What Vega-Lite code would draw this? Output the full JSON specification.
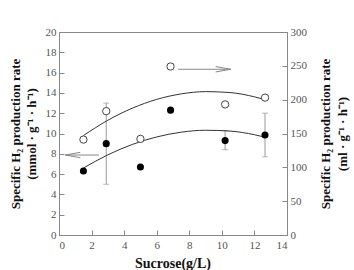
{
  "$schema": "https://vega.github.io/schema/vega-lite/v6.json",
  "width": 228,
  "height": 203,
  "autosize": {"type": "none"},
  "padding": {"left": 59, "top": 32, "right": 67, "bottom": 35},
  "background": "white",
  "config": {
    "view": {"stroke": "#888", "strokeWidth": 1},
    "font": "Liberation Serif",
    "axis": {
      "grid": false,
      "domainColor": "#888",
      "tickColor": "#888",
      "tickSize": -5,
      "labelFont": "Liberation Serif",
      "labelFontSize": 11,
      "labelColor": "#555",
      "titleFont": "Liberation Serif",
      "titleFontSize": 13,
      "titleFontWeight": "bold",
      "titleColor": "#111"
    }
  },
  "datasets": {
    "mmol": [
      {"sucrose": 1.5, "rate": 6.3},
      {"sucrose": 2.9, "rate": 9.0, "lo": 5.0, "hi": 13.0},
      {"sucrose": 5.0, "rate": 6.7},
      {"sucrose": 6.85, "rate": 12.3},
      {"sucrose": 10.2, "rate": 9.3, "lo": 8.4, "hi": 10.3},
      {"sucrose": 12.65, "rate": 9.85, "lo": 7.7, "hi": 12.0}
    ],
    "mmolFit": [
      {"sucrose": 1.5, "rate": 6.6},
      {"sucrose": 3.0, "rate": 7.9},
      {"sucrose": 4.5, "rate": 8.92},
      {"sucrose": 6.0, "rate": 9.66},
      {"sucrose": 7.5, "rate": 10.13},
      {"sucrose": 9.0, "rate": 10.32},
      {"sucrose": 10.5, "rate": 10.24},
      {"sucrose": 12.0, "rate": 9.88},
      {"sucrose": 12.65, "rate": 9.64}
    ],
    "ml": [
      {"sucrose": 1.5, "rate": 141},
      {"sucrose": 2.9, "rate": 183},
      {"sucrose": 5.0, "rate": 142},
      {"sucrose": 6.85, "rate": 249},
      {"sucrose": 10.2, "rate": 193},
      {"sucrose": 12.65, "rate": 203}
    ],
    "mlFit": [
      {"sucrose": 1.5, "rate": 147},
      {"sucrose": 3.0, "rate": 169.6},
      {"sucrose": 4.5, "rate": 187.4},
      {"sucrose": 6.0, "rate": 200.4},
      {"sucrose": 7.5, "rate": 208.5},
      {"sucrose": 9.0, "rate": 211.9},
      {"sucrose": 10.5, "rate": 210.5},
      {"sucrose": 12.0, "rate": 204.2},
      {"sucrose": 12.65, "rate": 200}
    ],
    "arrows": [
      {"from": 2.45, "to": 0.39, "level": 7.88, "dir": 180},
      {"from": 7.31, "to": 10.54, "level": 16.33, "dir": 0}
    ]
  },
  "encoding": {
    "x": {
      "field": "sucrose",
      "type": "quantitative",
      "scale": {"domain": [0, 14], "nice": false},
      "axis": {
        "title": "Sucrose(g/L)",
        "values": [0, 2, 4, 6, 8, 10, 12, 14],
        "labelPadding": 9,
        "titleX": 113.5,
        "titleY": 28,
        "titleBaseline": "middle",
        "titleFontSize": 14
      }
    }
  },
  "layer": [
    {
      "encoding": {
        "y": {
          "field": "rate",
          "type": "quantitative",
          "scale": {"domain": [0, 20], "nice": false},
          "axis": {
            "orient": "left",
            "title": ["Specific H₂ production rate", "(mmol · g⁻¹ · h⁻¹)"],
            "values": [0, 2, 4, 6, 8, 10, 12, 14, 16, 18, 20],
            "labelPadding": 8,
            "titleAngle": -90,
            "titleAlign": "center",
            "titleBaseline": "middle",
            "titleX": -44,
            "titleY": 101.5,
            "titleLineHeight": 16
          }
        }
      },
      "layer": [
        {
          "data": {"name": "mmol"},
          "transform": [{"filter": "datum.lo != null"}],
          "mark": {"type": "rule", "color": "#999", "strokeWidth": 1},
          "encoding": {"y": {"field": "lo"}, "y2": {"field": "hi"}}
        },
        {
          "data": {"name": "mmol"},
          "transform": [{"filter": "datum.lo != null"}],
          "mark": {"type": "tick", "color": "#999", "orient": "horizontal", "size": 6, "thickness": 1},
          "encoding": {"y": {"field": "lo"}}
        },
        {
          "data": {"name": "mmol"},
          "transform": [{"filter": "datum.lo != null"}],
          "mark": {"type": "tick", "color": "#999", "orient": "horizontal", "size": 6, "thickness": 1},
          "encoding": {"y": {"field": "hi"}}
        },
        {
          "data": {"name": "mmolFit"},
          "mark": {"type": "line", "color": "#333", "strokeWidth": 1, "interpolate": "monotone"},
          "encoding": {}
        },
        {
          "data": {"name": "mmol"},
          "mark": {"type": "point", "filled": true, "color": "#000", "size": 50, "opacity": 1},
          "encoding": {}
        },
        {
          "data": {"name": "arrows"},
          "mark": {"type": "rule", "color": "#888", "strokeWidth": 1},
          "encoding": {
            "x": {"field": "from", "type": "quantitative"},
            "x2": {"field": "to"},
            "y": {"field": "level", "type": "quantitative"}
          }
        },
        {
          "data": {"name": "arrows"},
          "mark": {
            "type": "point",
            "shape": "M -2 -0.36 L 0 0 L -2 0.36",
            "filled": false,
            "color": "#888",
            "strokeWidth": 1,
            "size": 225,
            "opacity": 1
          },
          "encoding": {
            "x": {"field": "to", "type": "quantitative"},
            "y": {"field": "level", "type": "quantitative"},
            "angle": {"field": "dir", "type": "quantitative", "scale": null}
          }
        }
      ]
    },
    {
      "encoding": {
        "y": {
          "field": "rate",
          "type": "quantitative",
          "scale": {"domain": [0, 300], "nice": false},
          "axis": {
            "orient": "right",
            "title": ["Specific H₂ production rate", "(ml · g⁻¹ · h⁻¹)"],
            "values": [0, 50, 100, 150, 200, 250, 300],
            "labelPadding": 8,
            "titleAngle": -90,
            "titleAlign": "center",
            "titleBaseline": "middle",
            "titleX": 38,
            "titleY": 101.5,
            "titleLineHeight": 17
          }
        }
      },
      "layer": [
        {
          "data": {"name": "mlFit"},
          "mark": {"type": "line", "color": "#333", "strokeWidth": 1, "interpolate": "monotone"},
          "encoding": {}
        },
        {
          "data": {"name": "ml"},
          "mark": {"type": "point", "filled": true, "fill": "white", "stroke": "#444", "strokeWidth": 1, "size": 54, "opacity": 1},
          "encoding": {}
        }
      ]
    }
  ],
  "resolve": {"scale": {"y": "independent"}}
}
